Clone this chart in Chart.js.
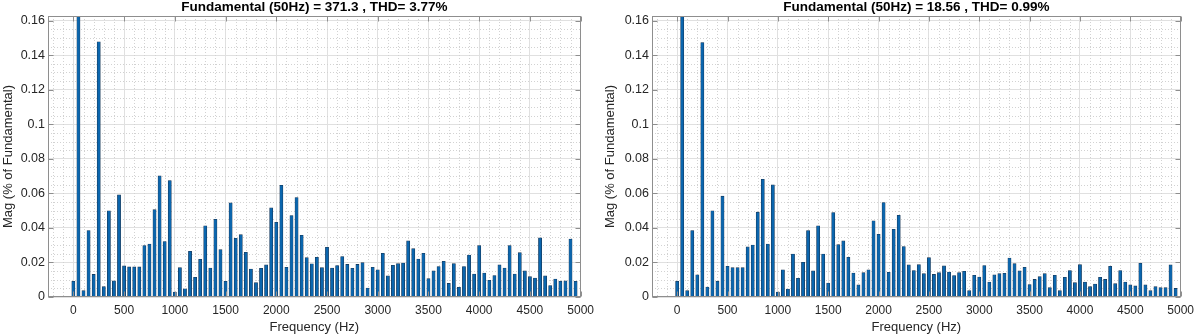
<!DOCTYPE html>
<html lang="en">
<head>
<meta charset="UTF-8">
<title>FFT Analysis</title>
<script src="https://cdn.jsdelivr.net/npm/chart.js"></script>
<style>
  html, body { margin: 0; padding: 0; background: #fff; }
  .panel { position: absolute; top: 0; width: 600px; height: 336px; }
</style>
</head>
<body>
<div class="panel" style="left:0"><canvas id="fftA" width="600" height="336"></canvas></div>
<div class="panel" style="left:600px"><canvas id="fftB" width="600" height="336"></canvas></div>
<script>
// harmonic frequencies (Hz)
const harmonicHz = [
  0, 50, 100, 150, 200, 250, 300, 350, 400, 450,
  500, 550, 600, 650, 700, 750, 800, 850, 900, 950,
  1000, 1050, 1100, 1150, 1200, 1250, 1300, 1350, 1400, 1450,
  1500, 1550, 1600, 1650, 1700, 1750, 1800, 1850, 1900, 1950,
  2000, 2050, 2100, 2150, 2200, 2250, 2300, 2350, 2400, 2450,
  2500, 2550, 2600, 2650, 2700, 2750, 2800, 2850, 2900, 2950,
  3000, 3050, 3100, 3150, 3200, 3250, 3300, 3350, 3400, 3450,
  3500, 3550, 3600, 3650, 3700, 3750, 3800, 3850, 3900, 3950,
  4000, 4050, 4100, 4150, 4200, 4250, 4300, 4350, 4400, 4450,
  4500, 4550, 4600, 4650, 4700, 4750, 4800, 4850, 4900, 4950
];

// magnitude, % of fundamental (fundamental itself = 100, off scale)
const magA = [
  0.0091, 100, 0.0037, 0.0385, 0.0131, 0.1478, 0.0060, 0.0499, 0.0093, 0.0591,
  0.0180, 0.0174, 0.0174, 0.0174, 0.0298, 0.0307, 0.0506, 0.0701, 0.0321, 0.0674,
  0.0029, 0.0170, 0.0048, 0.0265, 0.0114, 0.0218, 0.0412, 0.0168, 0.0450, 0.0274,
  0.0091, 0.0545, 0.0340, 0.0361, 0.0259, 0.0162, 0.0083, 0.0166, 0.0186, 0.0516,
  0.0433, 0.0647, 0.0172, 0.0472, 0.0576, 0.0357, 0.0228, 0.0192, 0.0230, 0.0170,
  0.0288, 0.0168, 0.0182, 0.0234, 0.0189, 0.0166, 0.0189, 0.0199, 0.0052, 0.0172,
  0.0158, 0.0253, 0.0122, 0.0184, 0.0193, 0.0197, 0.0325, 0.0280, 0.0220, 0.0253,
  0.0106, 0.0151, 0.0176, 0.0207, 0.0079, 0.0193, 0.0056, 0.0176, 0.0243, 0.0133,
  0.0298, 0.0139, 0.0097, 0.0124, 0.0186, 0.0168, 0.0298, 0.0133, 0.0257, 0.0151,
  0.0118, 0.0110, 0.0342, 0.0122, 0.0066, 0.0104, 0.0091, 0.0093, 0.0336, 0.0091
];

const magB = [
  0.0091, 100, 0.0037, 0.0385, 0.0129, 0.1473, 0.0058, 0.0499, 0.0091, 0.0584,
  0.0178, 0.0170, 0.0170, 0.0170, 0.0290, 0.0301, 0.0491, 0.0682, 0.0307, 0.0649,
  0.0029, 0.0158, 0.0046, 0.0249, 0.0108, 0.0201, 0.0385, 0.0151, 0.0412, 0.0249,
  0.0081, 0.0489, 0.0303, 0.0325, 0.0230, 0.0139, 0.0070, 0.0141, 0.0158, 0.0441,
  0.0363, 0.0547, 0.0143, 0.0392, 0.0473, 0.0292, 0.0186, 0.0153, 0.0187, 0.0135,
  0.0228, 0.0131, 0.0141, 0.0180, 0.0145, 0.0124, 0.0141, 0.0149, 0.0037, 0.0126,
  0.0116, 0.0182, 0.0087, 0.0128, 0.0135, 0.0137, 0.0226, 0.0193, 0.0151, 0.0172,
  0.0072, 0.0102, 0.0118, 0.0135, 0.0054, 0.0126, 0.0037, 0.0114, 0.0153, 0.0083,
  0.0187, 0.0087, 0.0060, 0.0075, 0.0114, 0.0102, 0.0178, 0.0077, 0.0153, 0.0087,
  0.0070, 0.0064, 0.0195, 0.0070, 0.0037, 0.0060, 0.0054, 0.0054, 0.0186, 0.0050
];

const titleA = 'Fundamental (50Hz) = 371.3 , THD= 3.77%';
const titleB = 'Fundamental (50Hz) = 18.56 , THD= 0.99%';

const xTicks = [0, 500, 1000, 1500, 2000, 2500, 3000, 3500, 4000, 4500, 5000];
const yTicks = [0, 0.02, 0.04, 0.06, 0.08, 0.1, 0.12, 0.14, 0.16];

const FONT = "'Liberation Sans', Arial, Helvetica, sans-serif";
const X_MIN = -250, X_MAX = 5000, Y_MAX = 0.1627;

// minor dotted grid, box with inward ticks and the bold title
const matlabAxes = {
  id: 'matlabAxes',
  beforeDatasetsDraw(chart) {
    const { ctx, chartArea: a, scales: { x, y } } = chart;
    ctx.save();
    ctx.strokeStyle = '#d2d2d2';
    ctx.lineWidth = 1;
    ctx.setLineDash([1, 2]);
    ctx.beginPath();
    for (let f = -200; f < X_MAX; f += 100) {
      if (f % 500 === 0) continue;
      const px = Math.round(x.getPixelForValue(f)) + 0.5;
      ctx.moveTo(px, a.top);
      ctx.lineTo(px, a.bottom);
    }
    for (let k = 1; k * 0.005 < Y_MAX; k++) {
      if (k % 4 === 0) continue;
      const py = Math.round(y.getPixelForValue(k * 0.005)) + 0.5;
      ctx.moveTo(a.left, py);
      ctx.lineTo(a.right, py);
    }
    ctx.stroke();
    ctx.restore();
  },
  afterDatasetsDraw(chart, args, opts) {
    const { ctx, chartArea: a, scales: { x, y } } = chart;
    const L = Math.round(a.left) + 0.5, R = Math.round(a.right) - 0.5;
    const T = Math.round(a.top) + 0.5, B = Math.round(a.bottom) - 0.5;
    ctx.save();
    ctx.strokeStyle = '#8e8e8e';
    ctx.lineWidth = 1;
    ctx.strokeRect(L, T, R - L, B - T);
    ctx.beginPath();
    xTicks.forEach(v => {
      const px = Math.round(x.getPixelForValue(v)) + 0.5;
      ctx.moveTo(px, B); ctx.lineTo(px, B - 5);
      ctx.moveTo(px, T); ctx.lineTo(px, T + 5);
    });
    yTicks.forEach(v => {
      const py = Math.round(y.getPixelForValue(v)) + 0.5;
      ctx.moveTo(L, py); ctx.lineTo(L + 5, py);
      ctx.moveTo(R, py); ctx.lineTo(R - 5, py);
    });
    ctx.stroke();

    ctx.fillStyle = '#000';
    ctx.font = 'bold 13.5px ' + FONT;
    ctx.textAlign = 'center';
    ctx.textBaseline = 'middle';
    ctx.fillText(opts.text, (a.left + a.right) / 2, 7.5);
    ctx.restore();
  }
};

function makeChart(id, values, title, axisWidth, padRight, yTitlePad) {
  return new Chart(document.getElementById(id), {
    type: 'bar',
    data: {
      datasets: [{
        data: harmonicHz.map((f, i) => ({ x: f, y: values[i] })),
        backgroundColor: '#0b66ae',
        borderColor: '#17324f',
        borderWidth: 0.6,
        barThickness: 3.2
      }]
    },
    options: {
      responsive: false,
      animation: false,
      layout: { padding: { top: 16, right: padRight, left: 0, bottom: 0 } },
      plugins: {
        legend: { display: false },
        tooltip: { enabled: false },
        matlabAxes: { text: title }
      },
      scales: {
        x: {
          type: 'linear',
          min: X_MIN,
          max: X_MAX,
          offset: false,
          afterBuildTicks: s => { s.ticks = xTicks.map(v => ({ value: v })); },
          afterFit: s => { s.height = 39; },
          grid: { color: '#e0e0e0', drawTicks: false, offset: false },
          border: { display: false },
          ticks: {
            padding: 6, color: '#262626', autoSkip: false, maxRotation: 0,
            font: { family: FONT, size: 12 },
            callback: v => String(v)
          },
          title: {
            display: true, text: 'Frequency (Hz)', color: '#262626',
            font: { family: FONT, size: 13 }, padding: { top: 0, bottom: 1 }
          }
        },
        y: {
          type: 'linear',
          min: 0,
          max: Y_MAX,
          afterBuildTicks: s => { s.ticks = yTicks.map(v => ({ value: v })); },
          afterFit: s => { s.width = axisWidth; },
          grid: { color: '#e0e0e0', drawTicks: false },
          border: { display: false },
          ticks: {
            padding: 3, color: '#262626', autoSkip: false,
            font: { family: FONT, size: 12.5 },
            callback: v => String(v)
          },
          title: {
            display: true, text: 'Mag (% of Fundamental)', color: '#262626',
            font: { family: FONT, size: 13 }, padding: { top: yTitlePad, bottom: 0 }
          }
        }
      }
    },
    plugins: [matlabAxes]
  });
}

makeChart('fftA', magA, titleA, 48, 18, 0.5);
makeChart('fftB', magB, titleB, 52, 16, 3);
</script>
</body>
</html>
